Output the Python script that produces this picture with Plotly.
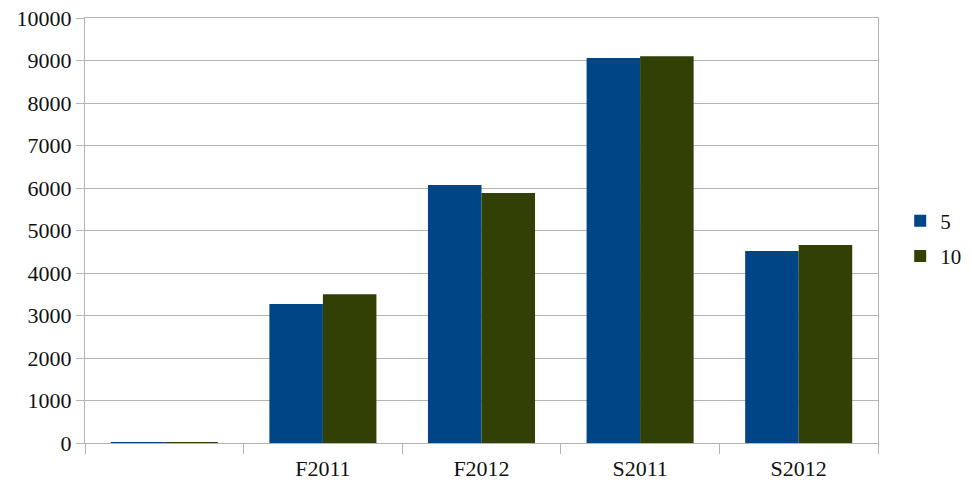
import plotly.graph_objects as go

categories = [" ", "F2011", "F2012", "S2011", "S2012"]
series_5 = [15, 3270, 6070, 9060, 4520]
series_10 = [15, 3500, 5880, 9100, 4660]
y_ticks = [0, 1000, 2000, 3000, 4000, 5000, 6000, 7000, 8000, 9000, 10000]
y_tick_labels = [str(v) for v in y_ticks]

grey = "#b3b3b3"
font_family = "Liberation Serif"

fig = go.Figure()
fig.add_trace(go.Bar(x=categories, y=series_5, name="5", legendgroup="a",
                     marker=dict(color="#004586", line=dict(width=0))))
fig.add_trace(go.Bar(x=categories, y=series_10, name="10", legendgroup="b",
                     marker=dict(color="#314004", line=dict(width=0))))

# page body adds an 8px margin, so the figure is a bit smaller than the window
fig.update_layout(
    width=964, height=480,
    margin=dict(l=77, r=94, t=10, b=45, autoexpand=False),
    plot_bgcolor="white", paper_bgcolor="white",
    barmode="group", bargap=0.325, bargroupgap=0,
    font=dict(family=font_family, size=22, color="#111111"),
    legend=dict(x=1.028, y=0.481, xanchor="left", yanchor="middle",
                font=dict(family=font_family, size=21), itemwidth=30, tracegroupgap=5),
)

fig.update_xaxes(
    type="category", tickson="boundaries", ticks="outside", ticklen=10,
    tickcolor=grey, showline=True, linecolor=grey, linewidth=1, mirror=True,
    showgrid=False, ticklabelstandoff=6, automargin=False,
    tickfont=dict(family=font_family, size=22),
)
fig.update_yaxes(
    range=[0, 10000], tickvals=y_ticks, ticktext=y_tick_labels, ticks="outside", ticklen=8,
    tickcolor=grey, showline=True, linecolor=grey, linewidth=1, mirror=True,
    showgrid=True, gridcolor=grey, gridwidth=1, zeroline=False, automargin=False,
    ticklabeloverflow="allow", tickfont=dict(family=font_family, size=22),
)

fig.write_html("out.html")
